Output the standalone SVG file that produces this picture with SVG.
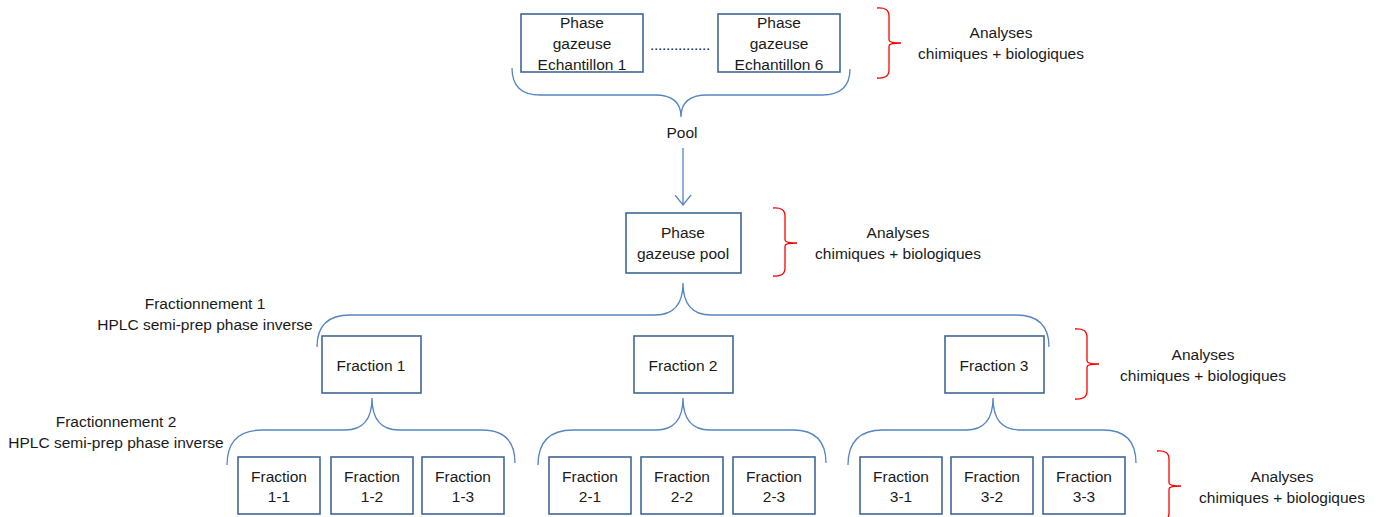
<svg xmlns="http://www.w3.org/2000/svg" width="1383" height="517" viewBox="0 0 1383 517">
<defs>
<style>
.box{fill:#fff;stroke:#3f6797;stroke-width:1.6}
.t{font-family:"Liberation Sans",Arial,sans-serif;font-size:15.5px;fill:#1a1a1a;text-anchor:middle}
.br{fill:none;stroke:#5585c2;stroke-width:1.3}
.rb{fill:none;stroke:#ff0000;stroke-width:1.3}
</style>
<marker id="ah" viewBox="0 0 12 18" refX="10" refY="9" markerWidth="12" markerHeight="18" markerUnits="userSpaceOnUse" orient="auto">
<path d="M0,1 L10,9 L0,17" fill="none" stroke="#5585c2" stroke-width="1.3"/>
</marker>
</defs>
<rect width="1383" height="517" fill="#fff"/>

<g id="connectors">
<path class="br" d="M512,68 Q512,95 540,95 L655,95 Q681,95 681,117 Q681,95 707,95 L822,95 Q850,95 850,69"/>
<line x1="683" y1="148" x2="683" y2="205" stroke="#5585c2" stroke-width="1.3" marker-end="url(#ah)"/>
<path class="br" d="M317,347 Q317,315 350,315 L655,315 Q683,315 683,283 Q683,315 711,315 L1016,315 Q1049,315 1049,347"/>
<path class="br" d="M227,465 Q227,430 262,430 L345,430 Q372,430 372,398 Q372,430 399,430 L482,430 Q515,430 515,463"/>
<path class="br" d="M538,465 Q538,430 573,430 L656,430 Q683,430 683,398 Q683,430 710,430 L793,430 Q826,430 826,463"/>
<path class="br" d="M848,465 Q848,430 883,430 L966,430 Q993,430 993,398 Q993,430 1020,430 L1103,430 Q1136,430 1136,463"/>
<path class="rb" d="M877,8 Q889,7 889,16 L889,40 Q889,43 901,43 Q889,43 889,46 L889,70 Q889,79 877,78"/>
<path class="rb" d="M773,208 Q785,207 785,216 L785,240 Q785,243 797,243 Q785,243 785,246 L785,268 Q785,277 773,276"/>
<path class="rb" d="M1075,329 Q1087,328 1087,337 L1087,361 Q1087,364 1099,364 Q1087,364 1087,367 L1087,391 Q1087,400 1075,399"/>
<path class="rb" d="M1157,451 Q1169,450 1169,459 L1169,483 Q1169,486 1181,486 Q1169,486 1169,489 L1169,513 Q1169,522 1157,521"/>
</g>

<g id="ech1">
<rect class="box" x="521" y="14" width="122" height="58"/>
<text class="t" x="582" y="28">Phase</text>
<text class="t" x="582" y="49">gazeuse</text>
<text class="t" x="582" y="70">Echantillon 1</text>
</g>
<g id="dots">
<text class="t" x="680" y="50" style="letter-spacing:-0.3px">...............</text>
</g>
<g id="ech6">
<rect class="box" x="718" y="14" width="122" height="58"/>
<text class="t" x="779" y="28">Phase</text>
<text class="t" x="779" y="49">gazeuse</text>
<text class="t" x="779" y="70">Echantillon 6</text>
</g>
<g id="an1">
<text class="t" x="1001" y="38">Analyses</text>
<text class="t" x="1001" y="59">chimiques + biologiques</text>
</g>
<g id="pool-label">
<text class="t" x="682" y="138">Pool</text>
</g>
<g id="pool">
<rect class="box" x="626" y="213" width="115" height="60"/>
<text class="t" x="683" y="238">Phase</text>
<text class="t" x="683" y="259">gazeuse pool</text>
</g>
<g id="an2">
<text class="t" x="898" y="238">Analyses</text>
<text class="t" x="898" y="259">chimiques + biologiques</text>
</g>
<g id="frac1-label">
<text class="t" x="205" y="309">Fractionnement 1</text>
<text class="t" x="205" y="330">HPLC semi-prep phase inverse</text>
</g>
<g id="f1">
<rect class="box" x="322" y="336" width="99" height="57"/>
<text class="t" x="371" y="371">Fraction 1</text>
</g>
<g id="f2">
<rect class="box" x="634" y="336" width="99" height="57"/>
<text class="t" x="683" y="371">Fraction 2</text>
</g>
<g id="f3">
<rect class="box" x="945" y="336" width="99" height="57"/>
<text class="t" x="994" y="371">Fraction 3</text>
</g>
<g id="an3">
<text class="t" x="1203" y="360">Analyses</text>
<text class="t" x="1203" y="381">chimiques + biologiques</text>
</g>
<g id="frac2-label">
<text class="t" x="116" y="427">Fractionnement 2</text>
<text class="t" x="116" y="448">HPLC semi-prep phase inverse</text>
</g>
<g id="f11"><rect class="box" x="238" y="457" width="82" height="57"/><text class="t" x="279" y="482">Fraction</text><text class="t" x="279" y="502">1-1</text></g>
<g id="f12"><rect class="box" x="331" y="457" width="82" height="57"/><text class="t" x="372" y="482">Fraction</text><text class="t" x="372" y="502">1-2</text></g>
<g id="f13"><rect class="box" x="422" y="457" width="82" height="57"/><text class="t" x="463" y="482">Fraction</text><text class="t" x="463" y="502">1-3</text></g>
<g id="f21"><rect class="box" x="549" y="457" width="82" height="57"/><text class="t" x="590" y="482">Fraction</text><text class="t" x="590" y="502">2-1</text></g>
<g id="f22"><rect class="box" x="641" y="457" width="82" height="57"/><text class="t" x="682" y="482">Fraction</text><text class="t" x="682" y="502">2-2</text></g>
<g id="f23"><rect class="box" x="733" y="457" width="82" height="57"/><text class="t" x="774" y="482">Fraction</text><text class="t" x="774" y="502">2-3</text></g>
<g id="f31"><rect class="box" x="860" y="457" width="82" height="57"/><text class="t" x="901" y="482">Fraction</text><text class="t" x="901" y="502">3-1</text></g>
<g id="f32"><rect class="box" x="951" y="457" width="82" height="57"/><text class="t" x="992" y="482">Fraction</text><text class="t" x="992" y="502">3-2</text></g>
<g id="f33"><rect class="box" x="1043" y="457" width="82" height="57"/><text class="t" x="1084" y="482">Fraction</text><text class="t" x="1084" y="502">3-3</text></g>
<g id="an4">
<text class="t" x="1282" y="482">Analyses</text>
<text class="t" x="1282" y="503">chimiques + biologiques</text>
</g>
</svg>
